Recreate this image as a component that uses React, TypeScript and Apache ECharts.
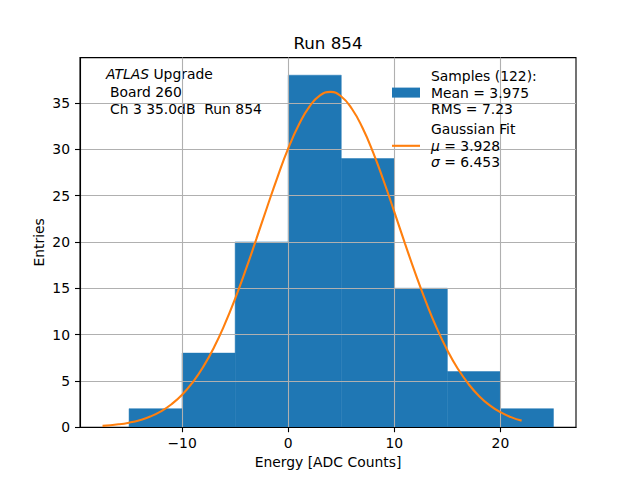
import { useEffect, useRef } from "react";
import * as echarts from "echarts";

// histogram bins (ADC counts) and entries per bin
const BIN_EDGES = [-15, -10, -5, 0, 5, 10, 15, 20, 25];
const COUNTS = [2, 8, 20, 38, 29, 15, 6, 2];

// gaussian fit curve
const FIT_X = [
  -17.5, -16, -15, -14, -13, -12, -11, -10, -9, -8, -7, -6, -5, -4, -3, -2, -1, 0, 1, 2, 3, 4, 5,
  6, 7, 8, 9, 10, 11, 12, 13, 14, 15, 16, 17, 18, 19, 20, 21, 22,
];
const FIT_Y = [
  0.14, 0.31, 0.49, 0.76, 1.15, 1.71, 2.48, 3.5, 4.85, 6.54, 8.61, 11.07, 13.89, 17.0, 20.33,
  23.72, 27.03, 30.1, 32.65, 34.61, 35.83, 36.2, 35.7, 34.38, 32.32, 29.67, 26.58, 23.25, 19.85,
  16.55, 13.47, 10.7, 8.3, 6.29, 4.65, 3.35, 2.36, 1.62, 1.09, 0.71,
];

const X_TICKS = [-10, 0, 10, 20];
const Y_TICKS = [0, 5, 10, 15, 20, 25, 30, 35];

const FONT = "DejaVu Sans";
const FS = 13.9;

export default function App() {
  const chartRef = useRef<HTMLDivElement>(null);

  useEffect(() => {
    if (!chartRef.current) return;
    const chart = echarts.init(chartRef.current, null, { renderer: "svg" });

    const bins = COUNTS.map((c, i) => [BIN_EDGES[i], BIN_EDGES[i + 1], c]);
    const fit = FIT_X.map((x, i) => [x, FIT_Y[i]]);

    const axisCommon = {
      axisLine: { show: true, onZero: false, lineStyle: { color: "#000", width: 1.1 } },
      axisTick: { show: true, length: 5, lineStyle: { color: "#000", width: 1.1 } },
      splitLine: { show: true, lineStyle: { color: "#b0b0b0", width: 1.1 } },
    };

    const option: echarts.EChartsOption = {
      animation: false,
      textStyle: { fontFamily: FONT },
      title: {
        text: "Run 854",
        left: 328,
        textAlign: "center",
        top: 34,
        padding: 0,
        textStyle: { fontFamily: FONT, fontSize: 16.7, fontWeight: "normal", color: "#000" },
      },
      grid: {
        left: 80,
        right: 64,
        top: 57.6,
        bottom: 52.8,
        show: true,
        borderColor: "#000",
        borderWidth: 1.1,
        backgroundColor: "transparent",
      },
      xAxis: {
        type: "value",
        min: -19.625,
        max: 27.125,
        z: 2,
        ...axisCommon,
        axisTick: { ...axisCommon.axisTick, customValues: X_TICKS },
        axisLabel: {
          customValues: X_TICKS,
          margin: 9,
          fontFamily: FONT,
          fontSize: FS,
          color: "#000",
          formatter: (v: number) => String(v).replace("-", "\u2212"),
        },
      },
      yAxis: {
        type: "value",
        min: 0,
        max: 39.9,
        z: 2,
        ...axisCommon,
        axisTick: { ...axisCommon.axisTick, customValues: Y_TICKS },
        axisLabel: {
          customValues: Y_TICKS,
          margin: 10,
          fontFamily: FONT,
          fontSize: FS,
          color: "#000",
        },
      },
      legend: {
        orient: "vertical",
        left: 392,
        top: 68,
        padding: 0,
        itemGap: 4,
        itemWidth: 28,
        itemHeight: 10,
        symbolKeepAspect: true,
        data: [
          { name: "Samples", icon: "rect" },
          {
            name: "Gaussian Fit",
            icon: "path://M0,0H28V2.1H0Z",
            itemStyle: { color: "#ff7f0e" },
          },
        ],
        formatter: (name: string) =>
          name === "Samples"
            ? "Samples (122):\nMean = 3.975\nRMS = 7.23"
            : "Gaussian Fit\n{i|\u03bc} = 3.928\n{i|\u03c3} = 6.453",
        textStyle: {
          fontFamily: FONT,
          fontSize: FS,
          lineHeight: 16.4,
          color: "#000",
          padding: [0, 0, 0, 6],
          rich: {
            i: { fontFamily: FONT, fontSize: FS, lineHeight: 16.4, fontStyle: "italic", color: "#000" },
          },
        },
      },
      graphic: [
        {
          type: "text",
          x: 106,
          y: 74,
          style: {
            text: "{i|ATLAS} Upgrade",
            fontFamily: FONT,
            fontSize: FS,
            fill: "#000",
            verticalAlign: "middle",
            rich: { i: { fontFamily: FONT, fontSize: FS, fontStyle: "italic", fill: "#000" } },
          },
        },
        {
          type: "text",
          x: 110,
          y: 92,
          style: { text: "Board 260", fontFamily: FONT, fontSize: FS, fill: "#000", verticalAlign: "middle" },
        },
        {
          type: "text",
          x: 110,
          y: 108.5,
          style: {
            text: "Ch 3 35.0dB  Run 854",
            fontFamily: FONT,
            fontSize: FS,
            fill: "#000",
            verticalAlign: "middle",
          },
        },
        {
          type: "text",
          x: 328,
          y: 462,
          style: {
            text: "Energy [ADC Counts]",
            fontFamily: FONT,
            fontSize: FS,
            fill: "#000",
            align: "center",
            verticalAlign: "middle",
          },
        },
        {
          type: "text",
          x: 39,
          y: 242.4,
          rotation: Math.PI / 2,
          style: {
            text: "Entries",
            fontFamily: FONT,
            fontSize: FS,
            fill: "#000",
            align: "center",
            verticalAlign: "middle",
          },
        },
      ],
      series: [
        {
          name: "Samples",
          type: "custom",
          z: 1,
          color: "#1f77b4",
          data: bins,
          encode: { x: [0, 1], y: 2 },
          renderItem: (_params: any, api: any) => {
            const p0 = api.coord([api.value(0), api.value(2)]);
            const p1 = api.coord([api.value(1), 0]);
            return {
              type: "rect",
              shape: { x: p0[0], y: p0[1], width: p1[0] - p0[0], height: p1[1] - p0[1] },
              style: { fill: "#1f77b4", stroke: "#1f77b4", lineWidth: 0.5 },
            };
          },
        },
        {
          name: "Gaussian Fit",
          type: "line",
          z: 3,
          data: fit,
          smooth: true,
          symbol: "none",
          color: "#ff7f0e",
          lineStyle: { color: "#ff7f0e", width: 2.1 },
        },
      ],
    };

    chart.setOption(option);
    return () => chart.dispose();
  }, []);

  return <div ref={chartRef} style={{ width: 640, height: 480, margin: -8 }} />;
}
